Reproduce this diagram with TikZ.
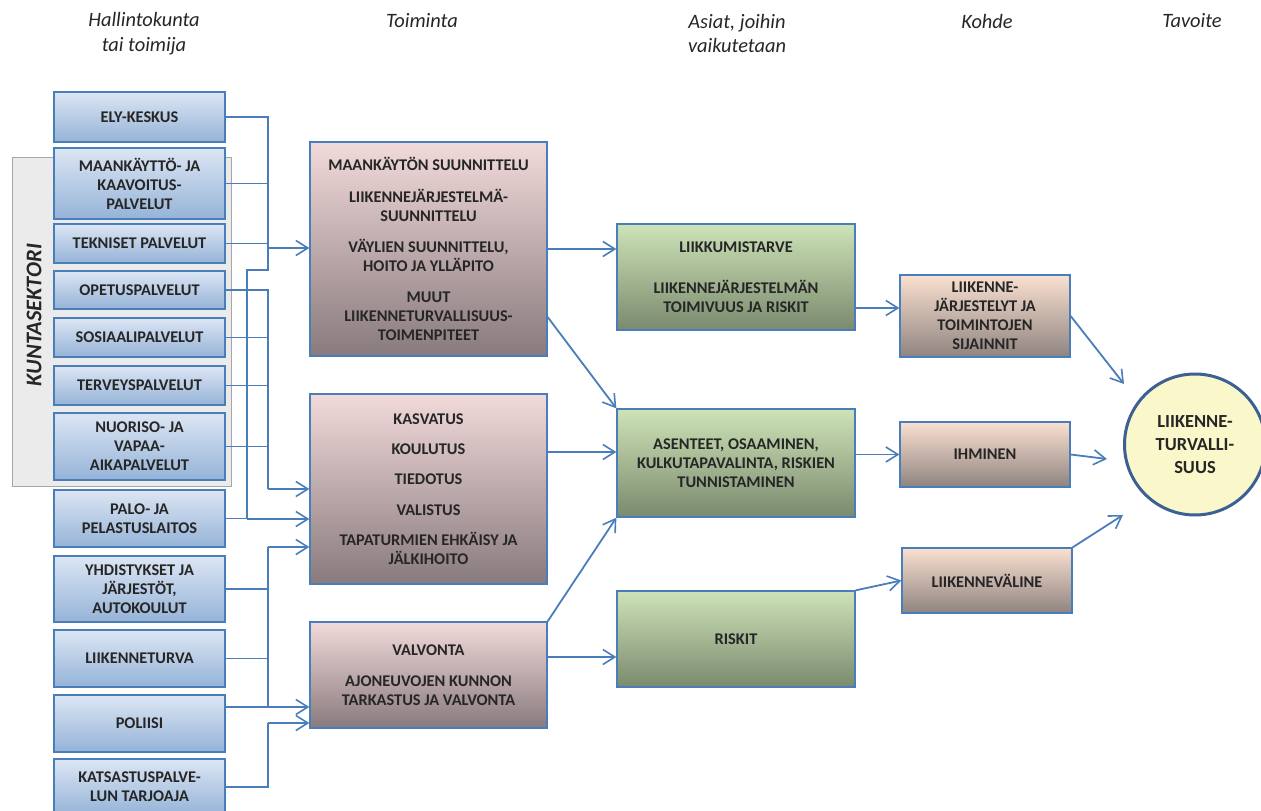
\documentclass[tikz,border=0pt]{standalone}
\usepackage{fontspec}
\setmainfont{Carlito}
\usetikzlibrary{arrows.meta,shadings}
\definecolor{lineblue}{RGB}{74,126,187}
\definecolor{txt}{RGB}{38,38,38}
\definecolor{blueT}{RGB}{220,230,244}
\definecolor{blueB}{RGB}{149,179,215}
\definecolor{pinkT}{RGB}{242,218,218}
\definecolor{pinkB}{RGB}{136,122,125}
\definecolor{greenT}{RGB}{206,227,183}
\definecolor{greenB}{RGB}{122,138,110}
\definecolor{peachT}{RGB}{250,224,208}
\definecolor{peachB}{RGB}{143,132,128}
\definecolor{circfill}{RGB}{250,247,202}
\definecolor{circline}{RGB}{60,95,148}
\definecolor{sectfill}{RGB}{235,235,235}
\definecolor{sectline}{RGB}{166,166,166}
\tikzset{
  box/.style={draw=lineblue, line width=1.3bp, inner sep=2bp, align=center,
    font=\bfseries\fontsize{16.4}{19}\selectfont, text=txt},
  bluebox/.style={box, top color=blueT, bottom color=blueB, minimum width=171bp},
  pinkbox/.style={box, top color=pinkT, bottom color=pinkB, minimum width=237bp},
  greenbox/.style={box, top color=greenT, bottom color=greenB, minimum width=238bp},
  peachbox/.style={box, top color=peachT, bottom color=peachB, minimum width=170bp},
  header/.style={font=\itshape\fontsize{20.5}{25}\selectfont, text=txt, align=center},
  link/.style={draw=lineblue, line width=1.8bp},
  arr/.style={link, -{Straight Barb[length=12bp,width=15bp,line width=1.6bp]}},
}
\begin{document}
\begin{tikzpicture}[x=1bp,y=-1bp]
\useasboundingbox (0,0) rectangle (1261,811);

% headers
\node[header] (h1) at (144,33.5) {Hallintokunta\\tai toimija};
\node[header] (h2) at (422,21) {Toiminta};
\node[header] (h3) at (737,33.5) {Asiat, joihin\\vaikutetaan};
\node[header] (h4) at (987,21) {Kohde};
\node[header] (h5) at (1192,21) {Tavoite};

% sector background
\draw[fill=sectfill, draw=sectline, line width=1bp] (12,157) rectangle (231,486);
\node[rotate=90, font=\bfseries\itshape\fontsize{22.5}{26}\selectfont, text=txt] (sector) at (34,315) {KUNTASEKTORI};

% left column
\node[bluebox, minimum height=50bp] (ely) at (139.5,117) {ELY-KESKUS};
\node[bluebox, minimum height=71bp] (maa) at (139.5,183.5) {MAANKÄYTTÖ- JA\\KAAVOITUS-\\PALVELUT};
\node[bluebox, minimum height=39bp] (tek) at (139.5,243.5) {TEKNISET PALVELUT};
\node[bluebox, minimum height=38bp] (ope) at (139.5,290) {OPETUSPALVELUT};
\node[bluebox, minimum height=39bp] (sos) at (139.5,337.5) {SOSIAALIPALVELUT};
\node[bluebox, minimum height=39bp] (ter) at (139.5,385.5) {TERVEYSPALVELUT};
\node[bluebox, minimum height=67bp] (nuo) at (139.5,446.5) {NUORISO- JA\\VAPAA-\\AIKAPALVELUT};
\node[bluebox, minimum height=57bp] (pal) at (139.5,518.5) {PALO- JA\\PELASTUSLAITOS};
\node[bluebox, minimum height=66bp] (yhd) at (139.5,589) {YHDISTYKSET JA\\JÄRJESTÖT,\\AUTOKOULUT};
\node[bluebox, minimum height=57bp] (lii) at (139.5,658.5) {LIIKENNETURVA};
\node[bluebox, minimum height=57bp] (pol) at (139.5,723.5) {POLIISI};
\node[bluebox, minimum height=56bp] (kat) at (139.5,787) {KATSASTUSPALVE-\\LUN TARJOAJA};

% actions
\node[pinkbox, minimum height=214bp] (act1) at (428.5,249) {MAANKÄYTÖN SUUNNITTELU\\[13pt]LIIKENNEJÄRJESTELMÄ-\\SUUNNITTELU\\[12pt]VÄYLIEN SUUNNITTELU,\\HOITO JA YLLÄPITO\\[12pt]MUUT\\LIIKENNETURVALLISUUS-\\TOIMENPITEET};
\node[pinkbox, minimum height=190bp] (act2) at (428.5,489) {KASVATUS\\[11.5pt]KOULUTUS\\[11.5pt]TIEDOTUS\\[11.5pt]VALISTUS\\[11.5pt]TAPATURMIEN EHKÄISY JA\\JÄLKIHOITO};
\node[pinkbox, minimum height=106bp] (act3) at (428.5,675) {VALVONTA\\[12pt]AJONEUVOJEN KUNNON\\TARKASTUS JA VALVONTA};

% affected matters
\node[greenbox, minimum height=106bp] (g1) at (736,277) {LIIKKUMISTARVE\\[22pt]LIIKENNEJÄRJESTELMÄN\\TOIMIVUUS JA RISKIT};
\node[greenbox, minimum height=108bp] (g2) at (736,463) {ASENTEET, OSAAMINEN,\\KULKUTAPAVALINTA, RISKIEN\\TUNNISTAMINEN};
\node[greenbox, minimum height=96bp] (g3) at (736,639) {RISKIT};

% targets
\node[peachbox, minimum height=82bp] (k1) at (985,316) {LIIKENNE-\\JÄRJESTELYT JA\\TOIMINTOJEN\\SIJAINNIT};
\node[peachbox, minimum height=65bp] (k2) at (985,454.5) {IHMINEN};
\node[peachbox, minimum height=65bp] (k3) at (987,580.5) {LIIKENNEVÄLINE};

% goal
\node[circle, draw=circline, line width=3bp, fill=circfill, minimum size=141bp, inner sep=0pt,
  align=center, font=\bfseries\fontsize{18.5}{23}\selectfont, text=txt] (goal) at (1195,444.5)
  {LIIKENNE-\\TURVALLI-\\SUUS};

% junction coordinates
\coordinate (a1) at (268,117);
\coordinate (a5) at (268,248);
\coordinate (a2) at (268,270);
\coordinate (a3) at (247,270);
\coordinate (a4) at (247,519);
\coordinate (b1) at (268,290);
\coordinate (b2) at (268,489);
\coordinate (c1) at (268,547);
\coordinate (c2) at (268,707);
\coordinate (d1) at (268,723);

% group A
\draw[link] (ely.east) -- (a1) -- (a2) -- (a3) -- (a4);
\draw[link] (maa.east) -- (maa.east -| a1);
\draw[link] (tek.east) -- (tek.east -| a1);
\draw[arr] (a5) -- (a5 -| act1.west);
\draw[arr] (a4) -- (a4 -| act2.west);
\draw[link] (pal.east) -- (pal.east -| a4);

% group B
\draw[link] (ope.east) -- (b1) -- (b2);
\draw[link] (sos.east) -- (sos.east -| b1);
\draw[link] (ter.east) -- (ter.east -| b1);
\draw[link] (nuo.east) -- (nuo.east -| b1);
\draw[arr] (b2) -- (b2 -| act2.west);

% group C
\draw[link] (yhd.east) -- (yhd.east -| c1);
\draw[link] (lii.east) -- (lii.east -| c1);
\draw[link] ([yshift=16.5bp]pol.east) -- (c2) -- (c1);
\draw[arr] (c1) -- (c1 -| act2.west);
\draw[arr] (c2) -- (c2 -| act3.west);
\draw[link] (kat.east) -- (kat.east -| d1) -- (d1);
\draw[arr] (d1) -- (d1 -| act3.west);

% actions to matters
\draw[arr] (act1.east) -- (act1.east -| g1.west);
\draw[arr] ([yshift=-68bp]act1.east) -- (g2.north west);
\coordinate (p2) at ([yshift=11bp]g2.west);
\draw[arr] (p2 -| act2.east) -- (p2);
\draw[arr] (act3.north east) -- (g2.south west);
\coordinate (p3) at ([yshift=18bp]act3.east);
\draw[arr] (p3) -- (p3 -| g3.west);

% matters to targets
\coordinate (q1) at ([yshift=8bp]k1.west);
\draw[arr] (q1 -| g1.east) -- (q1);
\draw[arr] (k2.west -| g2.east) -- (k2.west);
\draw[arr] (g3.north east) -- (k3.west);

% targets to goal
\coordinate (t1) at (1124,384);
\coordinate (t2) at (1107,459);
\coordinate (t3) at (1123,515);
\draw[arr] (k1.east) -- (t1);
\draw[arr] (k2.east) -- (t2);
\draw[arr] (k3.north east) -- (t3);
\end{tikzpicture}
\end{document}
